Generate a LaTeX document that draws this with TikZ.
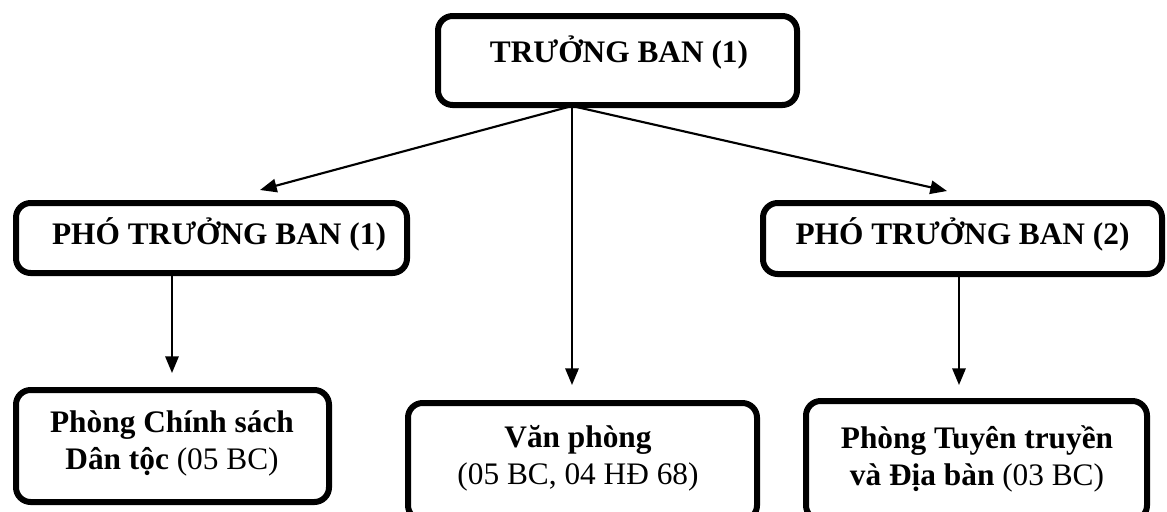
\documentclass[tikz,border=0pt]{standalone}
\usepackage{fontspec}
\setmainfont{Liberation Serif}
\usetikzlibrary{arrows.meta,calc}
\tikzset{
  orgbox/.style={draw=black, line width=4.5pt, rounded corners=11pt, inner sep=0pt, fill=white},
  txt/.style={inner sep=0pt, align=center, font=\fontsize{23.5pt}{27.75pt}\selectfont},
  arr/.style={draw=black, line width=1.6pt, -{Triangle[length=12.5pt,width=10pt]}}
}
\begin{document}
\begin{tikzpicture}[x=0.75pt,y=-0.75pt]
\useasboundingbox[fill=white] (0,0) rectangle (1167,511);
% boxes
\node[orgbox, minimum width=269.25pt, minimum height=66.75pt] (top) at (617.5,60.5) {};
\node[orgbox, minimum width=293.25pt, minimum height=52.5pt] (p1) at (211.5,238) {};
\node[orgbox, minimum width=299.25pt, minimum height=53.25pt] (p2) at (962.5,238.5) {};
\node[orgbox, minimum width=234.75pt, minimum height=84pt] (b1) at (172.5,446) {};
\node[orgbox, minimum width=261.75pt, minimum height=87.75pt] (b2) at (582.5,461.5) {};
\node[orgbox, minimum width=255.75pt, minimum height=89.25pt] (b3) at (976.5,460.5) {};
% texts
\node[txt] (toptxt) at (619,52) {\textbf{TRƯỞNG BAN (1)}};
\node[txt] (p1txt) at (219,234) {\textbf{PHÓ TRƯỞNG BAN (1)}};
\node[txt] (p2txt) at (962.5,234) {\textbf{PHÓ TRƯỞNG BAN (2)}};
\node[txt] (b1txt) at (172,443.5) {\textbf{Phòng Chính sách}\\\textbf{Dân tộc} (05 BC)};
\node[txt] (b2txt) at (578,458.5) {\textbf{Văn phòng}\\(05 BC, 04 HĐ 68)};
\node[txt] (b3txt) at (977,458.5) {\textbf{Phòng Tuyên truyền}\\\textbf{và Địa bàn} (03 BC)};
% connector points
\coordinate (o) at (572,106);
\coordinate (t1) at (260,190);
\coordinate (t2) at (947,191);
\coordinate (t3) at (572,385);
\coordinate (s1) at (172,276);
\coordinate (e1) at (172,373);
\coordinate (s2) at (959,277);
\coordinate (e2) at (959,385);
% connectors
\draw[arr] (o) -- (t1);
\draw[arr] (o) -- (t2);
\draw[arr] (o) -- (t3);
\draw[arr] (s1) -- (e1);
\draw[arr] (s2) -- (e2);
\end{tikzpicture}
\end{document}
